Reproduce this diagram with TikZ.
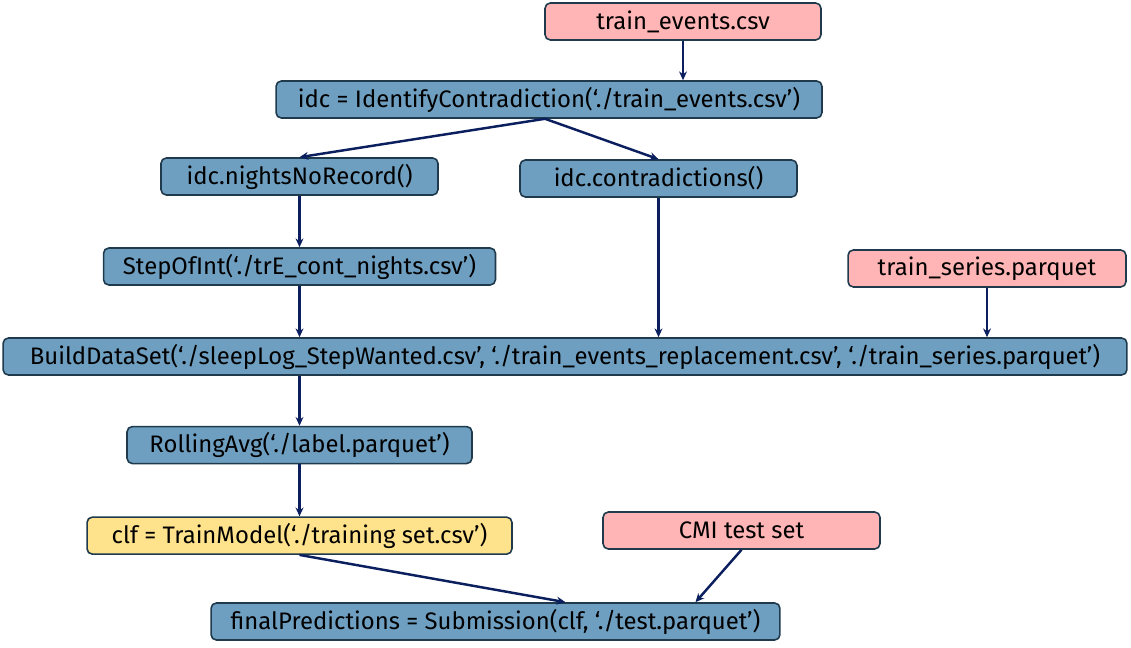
\documentclass[tikz,border=0pt]{standalone}
\usepackage{fontspec}
\setmainfont{Fira Sans}
\usepackage{tikz}
\usetikzlibrary{arrows.meta,positioning}
\usepackage{xcolor}
\definecolor{procblue}{HTML}{6E9FC1}
\definecolor{filepink}{HTML}{FFB5B5}
\definecolor{modelyellow}{HTML}{FFE38C}
\definecolor{boxline}{HTML}{1E3A4C}
\definecolor{arrownavy}{HTML}{0B1F5E}

\begin{document}
\begin{tikzpicture}[
  x=0.02cm, y=-0.02cm,
  box/.style={rectangle, rounded corners=3pt, draw=boxline, line width=0.9pt,
              fill=procblue, minimum height=0.74cm, inner sep=2pt,
              font=\fontsize{13.6}{15}\selectfont},
  filebox/.style={box, fill=filepink},
  modelbox/.style={box, fill=modelyellow},
  arrow/.style={-{Stealth[length=5pt,width=4.5pt]}, line width=1.4pt, draw=arrownavy},
]
\useasboundingbox (0,0) rectangle (1131,648);

%% Top: event file and contradiction finder
\node[filebox, minimum width=5.52cm] (events) at (683,21.5) {train\_events.csv};
\node[box, minimum width=10.92cm] (idc) at (549,99.5) {idc = IdentifyContradiction(‘./train\_events.csv’)};
\node[box, minimum width=5.54cm] (nights) at (299.5,176.5) {idc.nightsNoRecord()};
\node[box, minimum width=5.54cm] (contra) at (658.5,178.5) {idc.contradictions()};
\node[box, minimum width=7.84cm] (stepint) at (299.5,266.5) {StepOfInt(‘./trE\_cont\_nights.csv’)};
\node[filebox, minimum width=5.56cm] (series) at (987,268.5) {train\_series.parquet};

%% Middle: dataset build
\node[box, minimum width=22.48cm] (build) at (565,356.5)
  {BuildDataSet(‘./sleepLog\_StepWanted.csv’, ‘./train\_events\_replacement.csv’, ‘./train\_series.parquet’)};
\node[box, minimum width=6.9cm, below=1cm of build.south -| nights, anchor=north] (rolling) {RollingAvg(‘./label.parquet’)};

%% Bottom: model and submission
\node[modelbox, minimum width=8.5cm, below=1.04cm of rolling] (clf) {clf = TrainModel(‘./training set.csv’)};
\node[filebox, minimum width=5.54cm] (cmi) at (741.5,530.5) {CMI test set};
\node[box, minimum width=11.38cm] (final) at (495.5,621.5) {finalPredictions = Submission(clf, ‘./test.parquet’)};

%% Arrows
\draw[arrow] (events) -- (events.south |- idc.north);
\draw[arrow] ([xshift=-0.08cm]idc.south) -- (nights.north);
\draw[arrow] ([xshift=-0.08cm]idc.south) -- (contra.north);
\draw[arrow] (nights) -- (stepint);
\draw[arrow] (contra) -- (contra.south |- build.north);
\draw[arrow] (series) -- (series.south |- build.north);
\draw[arrow] (stepint) -- (stepint.south |- build.north);
\draw[arrow] (rolling.north |- build.south) -- (rolling);
\draw[arrow] (rolling) -- (clf);
\draw[arrow] (clf.south) -- ([xshift=1.4cm]final.north);
\draw[arrow] (cmi.south) -- ([xshift=4cm]final.north);
\end{tikzpicture}
\end{document}
